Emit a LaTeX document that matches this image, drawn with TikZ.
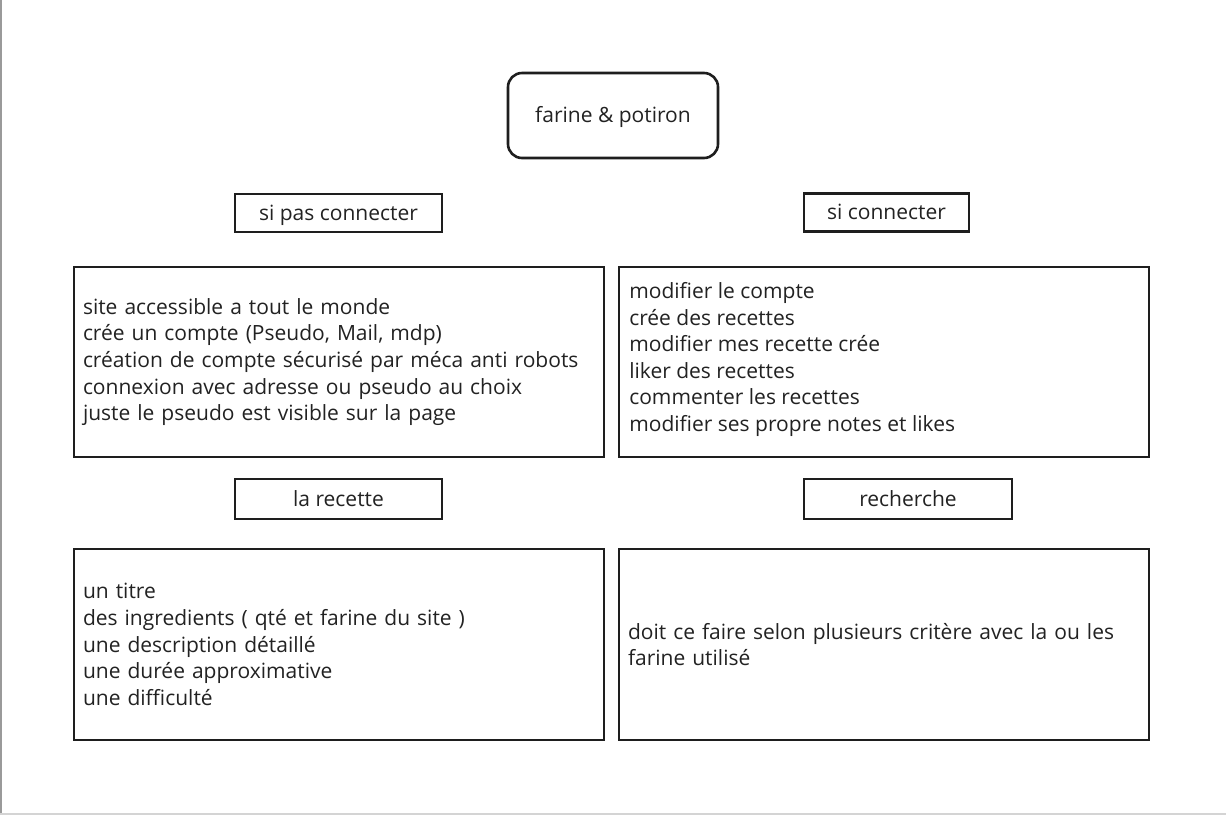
\documentclass[tikz,border=0pt]{standalone}
\usepackage{fontspec}
\setmainfont{Open Sans}
\definecolor{boxc}{HTML}{1E1E1E}
\definecolor{txtc}{HTML}{222222}
\definecolor{leftc}{HTML}{9A9A9A}
\definecolor{botc}{HTML}{D4D4D4}
\begin{document}
\begin{tikzpicture}[x=1pt,y=-1pt,
  basebox/.style={draw=boxc, line width=2.6pt, text=txtc, inner sep=0pt,
    font=\fontsize{21}{26.6}\selectfont},
  smallbox/.style={basebox, minimum height=38pt, text height=15pt, text depth=1pt},
  bigbox/.style={basebox, align=left, inner xsep=9pt, text width=512pt,
    minimum height=190pt},
  titlebox/.style={basebox, rounded corners=14pt, minimum width=210pt, minimum height=85pt,
    text height=15pt, text depth=1pt}]
\useasboundingbox (0,0) rectangle (1226,815);
\fill[white] (0,0) rectangle (1226,815);
\draw[leftc, line width=1.6pt] (0.8,0) -- (0.8,815);
\draw[botc, line width=1.6pt] (0,814) -- (1226,814);

\node[titlebox] (title) at (613,115.5) {farine \& potiron};

\node[smallbox, minimum width=207pt] (nc) at (338.5,213) {si pas connecter};
\node[smallbox, minimum width=165pt] (co) at (886.5,212.5) {si connecter};

\node[bigbox] (ncbox) at (339,362) {site accessible a tout le monde\\
crée un compte (Pseudo, Mail, mdp)\\
création de compte sécurisé par méca anti robots\\
connexion avec adresse ou pseudo au choix\\
juste le pseudo est visible sur la page};

\node[bigbox] (cobox) at (884,362) {};
\node[basebox, draw=none, align=left, anchor=west] (cotext) at (628,359.5) {modifier le compte\\
crée des recettes\\
modifier mes recette crée\\
liker des recettes\\
commenter les recettes\\
modifier ses propre notes et likes};

\node[smallbox, minimum width=207pt, minimum height=40pt] (rec) at (338.5,499) {la recette};
\node[smallbox, minimum width=208pt, minimum height=40pt] (rch) at (908,499) {recherche};

\node[bigbox, minimum height=191pt] (recbox) at (339,644.5) {un titre\\
des ingredients ( qté et farine du site )\\
une description détaillé\\
une durée approximative\\
une difficulté};

\node[bigbox, minimum height=191pt] (rchbox) at (884,644.5) {doit ce faire selon plusieurs critère avec la ou les\\
farine utilisé};
\end{tikzpicture}
\end{document}
